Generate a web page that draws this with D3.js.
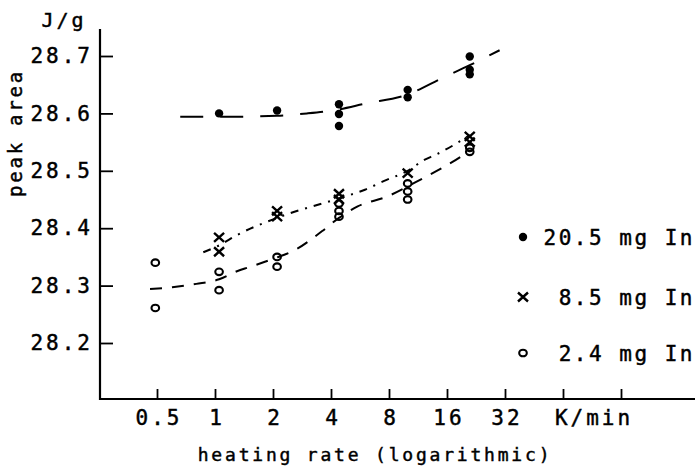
<!DOCTYPE html>
<html>
<head>
<meta charset="utf-8">
<script src="https://cdn.jsdelivr.net/npm/d3@7"></script>
<style>
body { margin: 0; background: #fff; }
text { font-family: "DejaVu Sans Mono", monospace; fill: #000; stroke: #000; stroke-width: 0.45px; }
</style>
</head>
<body>
<svg id="chart" width="695" height="466"></svg>
<script>
// tick labels
var rateTicks = [0.5, 1, 2, 4, 8, 16, 32, 64, 128];
var rateLabels = ["0.5", "1", "2", "4", "8", "16", "32", "", ""];
var areaTicks = [28.2, 28.3, 28.4, 28.5, 28.6, 28.7];

// 20.5 mg In (filled dots)
var bigRate = [1.05, 2.1, 4.4, 4.4, 4.4, 10, 10, 21, 21, 21];
var bigArea = [28.600, 28.605, 28.616, 28.599, 28.578, 28.641, 28.628, 28.699, 28.676, 28.668];
// 8.5 mg In (crosses)
var midRate = [1.05, 1.05, 2.1, 2.1, 4.4, 4.4, 10, 21, 21];
var midArea = [28.384, 28.359, 28.430, 28.420, 28.460, 28.450, 28.496, 28.560, 28.550];
// 2.4 mg In (open circles)
var smallRate = [0.49, 0.49, 1.05, 1.05, 2.1, 2.1, 4.4, 4.4, 4.4, 10, 10, 10, 21, 21];
var smallArea = [28.340, 28.261, 28.324, 28.292, 28.350, 28.333, 28.443, 28.430, 28.420, 28.478, 28.464, 28.450, 28.540, 28.533];

// hand drawn fit curves
var bigFitRate = [0.66, 1.05, 2.1, 3, 4.4, 6, 10, 15, 21, 30];
var bigFitArea = [28.594, 28.594, 28.596, 28.600, 28.607, 28.617, 28.633, 28.661, 28.684, 28.71];
var midFitRate = [0.87, 1.05, 1.3, 2.1, 4.4, 6, 7.5, 10, 12.2, 14, 21];
var midFitArea = [28.358, 28.370, 28.388, 28.418, 28.452, 28.467, 28.482, 28.500, 28.519, 28.528, 28.562];
var smallFitRate = [0.46, 0.6, 0.8, 1.05, 1.3, 1.5, 1.8, 2.1, 2.6, 3.6, 4.4, 5.5, 7.8, 12, 17, 21];
var smallFitArea = [28.294, 28.297, 28.303, 28.311, 28.325, 28.332, 28.341, 28.349, 28.362, 28.395, 28.418, 28.438, 28.455, 28.487, 28.515, 28.535];

var legendLabels = ["20.5 mg In", "8.5 mg In", "2.4 mg In"];

var svg = d3.select("#chart");

var x = d3.scaleLog().base(2).domain([0.5, 128]).range([157, 621]);
var y = d3.scaleLinear().domain([28.2, 28.7]).range([343, 56]);

// axis lines
svg.append("line").attr("x1", 100).attr("x2", 695).attr("y1", 399).attr("y2", 399)
    .attr("stroke", "#000").attr("stroke-width", 2.2);
svg.append("line").attr("x1", 100).attr("x2", 100).attr("y1", 29).attr("y2", 400)
    .attr("stroke", "#000").attr("stroke-width", 2.2);

var xAxis = d3.axisBottom(x)
    .tickValues(rateTicks)
    .tickSize(-10)
    .tickPadding(11)
    .tickFormat(function(d, i) { return rateLabels[i]; });

var gx = svg.append("g").attr("transform", "translate(0,399)").call(xAxis);
gx.select(".domain").remove();
gx.selectAll("line").attr("stroke-width", 1.8);
gx.selectAll("text").attr("font-size", 21).attr("font-family", "DejaVu Sans Mono")
    .attr("letter-spacing", 3).attr("dx", 1.5);

var yAxis = d3.axisLeft(y)
    .tickValues(areaTicks)
    .tickSize(-13)
    .tickPadding(7)
    .tickFormat(d3.format(".1f"));

var gy = svg.append("g").attr("transform", "translate(100,0)").call(yAxis);
gy.select(".domain").remove();
gy.selectAll("line").attr("stroke-width", 1.8);
gy.selectAll("text").attr("font-size", 21).attr("font-family", "DejaVu Sans Mono").attr("letter-spacing", 3);

// axis titles
svg.append("text").attr("x", (x(64) + x(128)) / 2 + 2).attr("y", 425)
    .attr("text-anchor", "middle").attr("font-size", 21).attr("letter-spacing", 3)
    .text("K/min");
svg.append("text").attr("x", 375).attr("y", 461)
    .attr("text-anchor", "middle").attr("font-size", 18).attr("letter-spacing", 2.8)
    .text("heating rate (logarithmic)");
svg.append("text").attr("x", 64).attr("y", 27)
    .attr("text-anchor", "middle").attr("font-size", 20).attr("letter-spacing", 3)
    .text("J/g");
svg.append("text").attr("transform", "translate(22,133) rotate(-90)")
    .attr("text-anchor", "middle").attr("font-size", 19).attr("letter-spacing", 2.8)
    .text("peak area");

// fit curves
var line = d3.line().curve(d3.curveMonotoneX);
function drawFit(rates, areas, dash) {
    svg.append("path")
        .attr("d", line(rates.map(function(r, i) { return [x(r), y(areas[i])]; })))
        .attr("fill", "none").attr("stroke", "#000").attr("stroke-width", 2)
        .attr("stroke-dasharray", dash);
}
drawFit(bigFitRate, bigFitArea, "23,17");
drawFit(midFitRate, midFitArea, "8,7,2,7");
drawFit(smallFitRate, smallFitArea, "12,10");

// markers
function dot(g, cx, cy) {
    g.append("circle").attr("cx", cx).attr("cy", cy).attr("r", 4.2).attr("fill", "#000");
}
function cross(g, cx, cy) {
    g.append("path")
        .attr("d", "M" + (cx - 5) + "," + (cy - 4.5) + "L" + (cx + 5) + "," + (cy + 4.5) +
                   "M" + (cx - 5) + "," + (cy + 4.5) + "L" + (cx + 5) + "," + (cy - 4.5))
        .attr("stroke", "#000").attr("stroke-width", 2.4).attr("fill", "none");
}
function ring(g, cx, cy) {
    g.append("ellipse").attr("cx", cx).attr("cy", cy).attr("rx", 3.8).attr("ry", 3.3)
        .attr("fill", "none").attr("stroke", "#000").attr("stroke-width", 2.1);
}

var pts = svg.append("g");
bigRate.forEach(function(r, i) { dot(pts, x(r), y(bigArea[i])); });
midRate.forEach(function(r, i) { cross(pts, x(r), y(midArea[i])); });
smallRate.forEach(function(r, i) { ring(pts, x(r), y(smallArea[i])); });

// legend
var legendY = [237, 297, 353];
var marks = [dot, cross, ring];
legendLabels.forEach(function(t, i) {
    marks[i](svg, 523, legendY[i]);
    svg.append("text").attr("x", 695).attr("y", legendY[i] + 8)
        .attr("text-anchor", "end").attr("font-size", 21).attr("letter-spacing", 2.5)
        .text(t);
});
</script>
</body>
</html>
